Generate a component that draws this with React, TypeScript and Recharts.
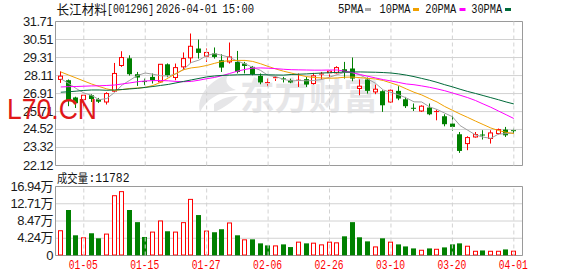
import React from 'react';
import {
  ComposedChart,
  Bar,
  Line,
  XAxis,
  YAxis,
  CartesianGrid,
  ReferenceLine,
  ReferenceArea,
} from 'recharts';

const dates = [
  '12-29', '12-30', '12-31', '01-05', '01-06', '01-07', '01-08', '01-09', '01-12', '01-13',
  '01-14', '01-15', '01-16', '01-19', '01-20', '01-21', '01-22', '01-23', '01-26', '01-27',
  '01-28', '01-29', '01-30', '02-02', '02-03', '02-04', '02-05', '02-06', '02-09', '02-10',
  '02-11', '02-12', '02-13', '02-24', '02-25', '02-26', '02-27', '03-02', '03-03', '03-04',
  '03-05', '03-06', '03-09', '03-10', '03-11', '03-12', '03-13', '03-16', '03-17', '03-18',
  '03-19', '03-20', '03-23', '03-24', '03-25', '03-26', '03-27', '03-30', '03-31', '04-01',
];

const opens = [
  27.85, 27.80, 26.65, 26.51, 26.80, 26.53, 26.35, 27.07, 28.78, 29.26,
  28.20, 27.71, 28.02, 27.69, 28.86, 27.98, 28.69, 29.29, 29.91, 29.40,
  29.58, 29.13, 29.02, 29.02, 28.91, 28.69, 28.09, 27.55, 27.90, 27.89,
  27.80, 27.73, 27.87, 27.58, 28.16, 28.30, 28.29, 28.53, 28.58, 27.25,
  27.85, 27.02, 27.07, 26.35, 27.09, 26.53, 25.93, 25.75, 25.98, 25.67,
  25.40, 24.91, 24.20, 23.58, 24.02, 24.15, 23.92, 24.25, 24.51, 24.44,
];
const highs = [
  28.39, 27.85, 26.70, 26.82, 26.87, 26.62, 27.00, 28.95, 29.73, 29.46,
  28.35, 27.91, 28.25, 28.88, 28.92, 28.91, 29.65, 30.91, 30.51, 29.91,
  29.98, 29.53, 30.31, 29.75, 29.02, 28.75, 28.25, 27.91, 28.07, 28.02,
  27.90, 28.25, 28.02, 28.29, 28.35, 28.47, 28.73, 29.02, 29.31, 27.85,
  27.98, 27.51, 27.13, 27.18, 27.40, 26.69, 26.25, 26.13, 26.25, 25.85,
  25.53, 25.47, 24.35, 24.07, 24.35, 24.47, 24.47, 24.58, 24.69, 24.58,
];
const lows = [
  27.62, 26.07, 25.95, 25.98, 26.35, 26.28, 26.18, 27.02, 28.69, 28.11,
  27.42, 27.47, 27.58, 27.62, 28.00, 27.80, 28.47, 28.95, 29.24, 29.02,
  29.24, 28.35, 28.91, 28.25, 28.25, 28.13, 27.53, 27.40, 27.75, 27.65,
  27.60, 27.35, 27.35, 27.51, 27.85, 28.02, 28.25, 27.91, 27.73, 26.80,
  26.91, 26.87, 25.69, 26.28, 26.47, 25.95, 25.75, 25.69, 25.47, 25.13,
  24.73, 24.42, 22.96, 23.14, 23.98, 23.85, 23.58, 24.18, 24.02, 24.25,
];
const closes = [
  28.07, 26.40, 26.27, 26.80, 26.55, 26.37, 26.91, 28.25, 29.31, 28.20,
  27.98, 27.68, 27.80, 28.86, 28.13, 28.64, 29.24, 30.06, 29.62, 29.65,
  29.35, 28.64, 29.35, 28.35, 28.75, 28.20, 27.65, 27.64, 27.97, 27.86,
  27.65, 27.80, 27.51, 28.09, 28.21, 28.40, 28.64, 28.35, 27.91, 27.40,
  27.09, 27.20, 26.13, 27.13, 26.58, 26.07, 25.89, 26.07, 25.53, 25.71,
  24.87, 24.69, 23.09, 23.98, 24.18, 24.11, 24.29, 24.51, 24.13, 24.40,
];

const ma5 = [
  27.90, 27.60, 27.25, 26.95, 26.80, 26.50, 26.58, 26.98, 27.48, 27.80,
  28.12, 28.28, 28.20, 28.10, 28.08, 28.22, 28.53, 28.98, 29.14, 29.44,
  29.57, 29.46, 29.32, 29.07, 28.89, 28.66, 28.46, 28.12, 28.04, 27.86,
  27.75, 27.78, 27.76, 27.78, 27.85, 28.00, 28.17, 28.33, 28.30, 28.14,
  27.88, 27.59, 27.15, 26.99, 26.83, 26.62, 26.36, 26.35, 26.03, 25.85,
  25.61, 25.37, 24.78, 24.47, 24.16, 24.01, 23.93, 24.21, 24.24, 24.29,
];
const ma10 = [
  28.35, 28.15, 27.95, 27.75, 27.55, 27.38, 27.22, 27.12, 27.18, 27.25,
  27.28, 27.32, 27.45, 27.65, 27.95, 28.25, 28.50, 28.62, 28.68, 28.78,
  28.92, 29.05, 29.10, 29.12, 29.12, 29.05, 28.90, 28.72, 28.55, 28.40,
  28.28, 28.15, 28.04, 27.98, 27.95, 27.93, 27.95, 28.00, 28.01, 27.97,
  27.92, 27.88, 27.78, 27.62, 27.45, 27.22, 27.00, 26.82, 26.58, 26.35,
  26.05, 25.80, 25.55, 25.32, 25.08, 24.85, 24.62, 24.45, 24.33, 24.25,
];
const ma20 = [
  27.35, 27.37, 27.38, 27.40, 27.42, 27.43, 27.45, 27.48, 27.55, 27.62,
  27.70, 27.75, 27.77, 27.78, 27.76, 27.72, 27.70, 27.72, 27.80, 27.90,
  27.98, 28.10, 28.25, 28.40, 28.52, 28.60, 28.62, 28.60, 28.57, 28.53,
  28.50, 28.49, 28.48, 28.47, 28.47, 28.48, 28.48, 28.40, 28.30, 28.18,
  28.06, 27.95, 27.84, 27.75, 27.65, 27.55, 27.50, 27.42, 27.33, 27.22,
  27.10, 26.95, 26.80, 26.64, 26.45, 26.22, 26.00, 25.75, 25.50, 25.25,
];
const ma30 = [
  27.00, 27.03, 27.07, 27.12, 27.15, 27.15, 27.13, 27.15, 27.18, 27.22,
  27.26, 27.32, 27.38, 27.45, 27.52, 27.62, 27.72, 27.82, 27.92, 28.02,
  28.08, 28.12, 28.14, 28.16, 28.17, 28.17, 28.17, 28.16, 28.15, 28.14,
  28.18, 28.20, 28.22, 28.25, 28.28, 28.30, 28.32, 28.34, 28.35, 28.35,
  28.34, 28.33, 28.31, 28.28, 28.22, 28.14, 28.04, 27.92, 27.80, 27.66,
  27.50, 27.36, 27.20, 27.05, 26.92, 26.78, 26.64, 26.50, 26.35, 26.22,
];

// volume in 万 (10k) units
const volumes = [
  6.2, 11.17, 4.96, 4.47, 5.46, 4.22, 5.38, 14.8, 15.8, 11.17,
  8.19, 4.55, 5.87, 8.6, 5.95, 5.87, 8.19, 13.9, 9.93, 6.12,
  5.71, 6.45, 8.11, 4.96, 3.97, 3.97, 2.98, 2.48, 2.48, 2.73,
  2.07, 3.4, 2.98, 3.15, 2.73, 3.4, 3.23, 4.71, 8.19, 4.47,
  3.47, 2.23, 4.22, 3.4, 2.73, 2.23, 1.74, 1.41, 1.74, 1.65,
  1.99, 2.73, 2.98, 2.4, 1.16, 1.24, 1.16, 1.16, 1.49, 1.18,
];
// 1 = up day (red), -1 = down day (green)
const volDir = [
  1, -1, -1, 1, -1, -1, 1, 1, 1, -1,
  -1, -1, 1, 1, -1, 1, 1, 1, -1, 1,
  -1, -1, 1, -1, 1, -1, -1, -1, 1, -1,
  -1, 1, -1, 1, 1, 1, 1, -1, -1, -1,
  -1, 1, -1, 1, -1, -1, -1, 1, -1, 1,
  -1, -1, -1, 1, 1, -1, 1, 1, -1, 1,
];

const priceTicks = [22.12, 23.32, 24.52, 25.71, 26.91, 28.11, 29.31, 30.51, 31.71];
const volTicks = [0, 4.235, 8.47, 12.705, 16.94];
const volTickLabels = ['0', '4.24万', '8.47万', '12.71万', '16.94万'];
const dateTickIdx = [3, 11, 19, 27, 35, 43, 51, 59];
const titleName = '长江材料';
const titleCode = '[001296]';
const titleDate = '2026-04-01';
const titleTime = '15:00';
const volLabel = '成交量';
const volLast = '11782';
const legendItems = [
  { name: '5PMA', color: '#a8a8a8' },
  { name: '10PMA', color: '#f0a000' },
  { name: '20PMA', color: '#ff00ff' },
  { name: '30PMA', color: '#006a3a' },
];

const X_DOMAIN: [number, number] = [-0.685, 60.13];
const P_DOMAIN: [number, number] = [22.12, 31.71];
const V_DOMAIN: [number, number] = [0, 16.94];

const RED = '#ff0000';
const GREEN = '#008000';
const GRID = '#d2d2d2';
const BORDER = '#9a9a9a';

const data = dates.map((d, i) => ({
  i,
  date: d,
  open: opens[i],
  high: highs[i],
  low: lows[i],
  close: closes[i],
  ma5: ma5[i],
  ma10: ma10[i],
  ma20: ma20[i],
  ma30: ma30[i],
  vol: volumes[i],
  vdir: volDir[i],
}));

function Candle(props: any) {
  const { x, y, width, height, payload } = props;
  if (x == null || y == null || !payload) return null;
  const { open, close, high, low } = payload;
  const span = high - low;
  const py = (v: number) => (span > 0 ? y + ((high - v) / span) * height : y);
  const cx = Math.floor(x + width / 2) + 0.5;
  const up = close >= open;
  const col = up ? RED : GREEN;
  const top = py(Math.max(open, close));
  const bot = py(Math.min(open, close));
  const yH = py(high);
  const yL = py(low);
  const h = bot - top;
  if (up) {
    return (
      <g>
        <line x1={cx} x2={cx} y1={yH} y2={top} stroke={col} strokeWidth={1} />
        <line x1={cx} x2={cx} y1={bot} y2={yL} stroke={col} strokeWidth={1} />
        {h < 1.5 ? (
          <line x1={cx - 2.5} x2={cx + 2.5} y1={top} y2={top} stroke={col} strokeWidth={1} />
        ) : (
          <rect x={cx - 2} y={top} width={4} height={h} fill="#ffffff" stroke={col} strokeWidth={1} />
        )}
      </g>
    );
  }
  return (
    <g>
      <line x1={cx} x2={cx} y1={yH} y2={yL} stroke={col} strokeWidth={1} />
      {h < 1.5 ? (
        <line x1={cx - 2.5} x2={cx + 2.5} y1={top} y2={top} stroke={col} strokeWidth={1} />
      ) : (
        <rect x={cx - 2.5} y={top} width={5} height={h} fill={col} />
      )}
    </g>
  );
}

function VolBar(props: any) {
  const { x, y, width, height, payload } = props;
  if (x == null || y == null || !payload) return null;
  const cx = Math.floor(x + width / 2) + 0.5;
  if (payload.vdir > 0) {
    return (
      <rect x={cx - 2} y={y + 0.5} width={4} height={Math.max(height - 1, 0)} fill="#ffffff" stroke={RED} strokeWidth={1} />
    );
  }
  return <rect x={cx - 2.5} y={y} width={5} height={height} fill={GREEN} />;
}

const PriceTick = (p: any) => (
  <text
    x={p.x}
    y={p.y}
    dy={4}
    textAnchor="end"
    fontFamily="'Liberation Sans', Arial, sans-serif"
    fontSize={13}
    letterSpacing={-0.5}
    fill="#1a1a1a"
  >
    {Number(p.payload.value).toFixed(2)}
  </text>
);

const VolTick = (p: any) => {
  const idx = volTicks.indexOf(p.payload.value);
  return (
    <text
      x={p.x}
      y={p.y}
      dy={4}
      textAnchor="end"
      fontFamily="'Liberation Sans', Arial, 'Noto Sans CJK SC', sans-serif"
      fontSize={13}
      letterSpacing={-0.5}
      fill="#1a1a1a"
    >
      {idx >= 0 ? volTickLabels[idx] : ''}
    </text>
  );
};

const DateTick = (p: any) => (
  <text
    x={p.x - 15}
    y={p.y}
    dy={13.5}
    textAnchor="start"
    fontFamily="'Liberation Mono', monospace"
    fontSize={12}
    textLength={29}
    lengthAdjust="spacingAndGlyphs"
    fill={RED}
  >
    {dates[p.payload.value] ?? ''}
  </text>
);

const monoFont = "'Liberation Mono', monospace";
const cjkFont = "'Noto Sans CJK SC', sans-serif";

export default function App() {
  return (
    <div style={{ position: 'absolute', left: 0, top: 0, width: 578, height: 276, background: '#ffffff', overflow: 'hidden' }}>
      {/* background watermark */}
      <svg width={578} height={276} style={{ position: 'absolute', left: 0, top: 0 }}>
        <path
          d="M229 74 C 210 80 196 96 200 112 C 206 100 216 93 236 90 C 226 86 224 80 229 74 Z"
          fill="#e6e6e8"
        />
        <path d="M214 104 C 222 98 230 96 238 96 C 232 102 224 108 214 112 Z" fill="#e6e6e8" />
        <text
          x={240}
          y={110}
          fontFamily={cjkFont}
          fontWeight={700}
          fontSize={37}
          textLength={138}
          lengthAdjust="spacingAndGlyphs"
          fill="#e6e6e8"
        >
          东方财富
        </text>
      </svg>

      <div style={{ position: 'absolute', left: 0, top: 0 }}>
        <ComposedChart width={578} height={176} data={data} margin={{ top: 21.5, right: 55.5, bottom: 10.5, left: 0.5 }}>
          <CartesianGrid stroke={GRID} vertical={false} />
          {dateTickIdx.map((t) => (
            <ReferenceLine key={t} x={t} stroke={GRID} strokeDasharray="4 3" />
          ))}
          <XAxis type="number" dataKey="i" domain={X_DOMAIN} allowDataOverflow hide />
          <YAxis
            type="number"
            domain={P_DOMAIN}
            ticks={priceTicks}
            allowDataOverflow
            width={55}
            axisLine={false}
            tickLine={false}
            tickSize={0}
            tickMargin={2.5}
            tick={PriceTick}
            interval={0}
          />
          <Bar
            dataKey={(d: any) => [d.low, d.high]}
            barSize={5}
            shape={(p: any) => <Candle {...p} />}
            isAnimationActive={false}
          />
          <Line type="linear" dataKey="ma5" stroke="#a0a0a0" strokeWidth={1} dot={false} isAnimationActive={false} />
          <Line type="linear" dataKey="ma10" stroke="#f0a000" strokeWidth={1} dot={false} isAnimationActive={false} />
          <Line type="linear" dataKey="ma20" stroke="#ff00ff" strokeWidth={1} dot={false} isAnimationActive={false} />
          <Line type="linear" dataKey="ma30" stroke="#006a3a" strokeWidth={1} dot={false} isAnimationActive={false} />
          <ReferenceArea
            x1={X_DOMAIN[0]}
            x2={X_DOMAIN[1]}
            y1={P_DOMAIN[0]}
            y2={P_DOMAIN[1]}
            fill="none"
            fillOpacity={0}
            stroke={BORDER}
            ifOverflow="visible"
          />
        </ComposedChart>
      </div>

      <div style={{ position: 'absolute', left: 0, top: 170 }}>
        <ComposedChart width={578} height={106} data={data} margin={{ top: 16.5, right: 55.5, bottom: 0, left: 0.5 }}>
          <CartesianGrid stroke={GRID} vertical={false} />
          {dateTickIdx.map((t) => (
            <ReferenceLine key={t} x={t} stroke={GRID} strokeDasharray="4 3" />
          ))}
          <XAxis
            type="number"
            dataKey="i"
            domain={X_DOMAIN}
            allowDataOverflow
            ticks={dateTickIdx}
            interval={0}
            height={20.5}
            axisLine={false}
            tickLine={false}
            tickSize={0}
            tickMargin={0}
            tick={DateTick}
          />
          <YAxis
            type="number"
            domain={V_DOMAIN}
            ticks={volTicks}
            allowDataOverflow
            width={55}
            axisLine={false}
            tickLine={false}
            tickSize={0}
            tickMargin={2.5}
            tick={VolTick}
            interval={0}
          />
          <Bar dataKey="vol" barSize={5} shape={(p: any) => <VolBar {...p} />} isAnimationActive={false} />
          <ReferenceArea
            x1={X_DOMAIN[0]}
            x2={X_DOMAIN[1]}
            y1={V_DOMAIN[0]}
            y2={V_DOMAIN[1]}
            fill="none"
            fillOpacity={0}
            stroke={BORDER}
            ifOverflow="visible"
          />
        </ComposedChart>
      </div>

      {/* foreground texts */}
      <svg width={578} height={276} style={{ position: 'absolute', left: 0, top: 0, pointerEvents: 'none' }}>
        <text x={56.5} y={13.5} fontFamily={cjkFont} fontSize={13} textLength={50.5} lengthAdjust="spacingAndGlyphs" fill="#111">
          {titleName}
        </text>
        <text x={107} y={13} fontFamily={monoFont} fontSize={12} textLength={47} lengthAdjust="spacingAndGlyphs" fill="#111">
          {titleCode}
        </text>
        <text x={156} y={13} fontFamily={monoFont} fontSize={12} textLength={61} lengthAdjust="spacingAndGlyphs" fill="#111">
          {titleDate}
        </text>
        <text x={222.5} y={13} fontFamily={monoFont} fontSize={12} textLength={31.5} lengthAdjust="spacingAndGlyphs" fill="#111">
          {titleTime}
        </text>

        {legendItems.map((it, k) => {
          const starts = [338, 379.5, 425.2, 471.2];
          const lens = [25.5, 31, 31, 31];
          const rx = [365, 413, 459.5, 505];
          return (
            <g key={it.name}>
              <text x={starts[k]} y={13} fontFamily={monoFont} fontSize={12} textLength={lens[k]} lengthAdjust="spacingAndGlyphs" fill="#111">
                {it.name}
              </text>
              <rect x={rx[k]} y={8} width={6} height={3} fill={it.color} />
            </g>
          );
        })}

        <text x={57} y={182.5} fontFamily={cjkFont} fontSize={12} textLength={31} lengthAdjust="spacingAndGlyphs" fill="#111">
          {volLabel}
        </text>
        <text x={88.5} y={182} fontFamily={monoFont} fontSize={12} textLength={41} lengthAdjust="spacingAndGlyphs" fill="#111">
          {':' + volLast}
        </text>

        <text
          x={7}
          y={118.5}
          fontFamily="'Liberation Sans', Arial, sans-serif"
          fontSize={30}
          textLength={90}
          lengthAdjust="spacingAndGlyphs"
          fill="#e01818"
        >
          L70.CN
        </text>
      </svg>
    </div>
  );
}
